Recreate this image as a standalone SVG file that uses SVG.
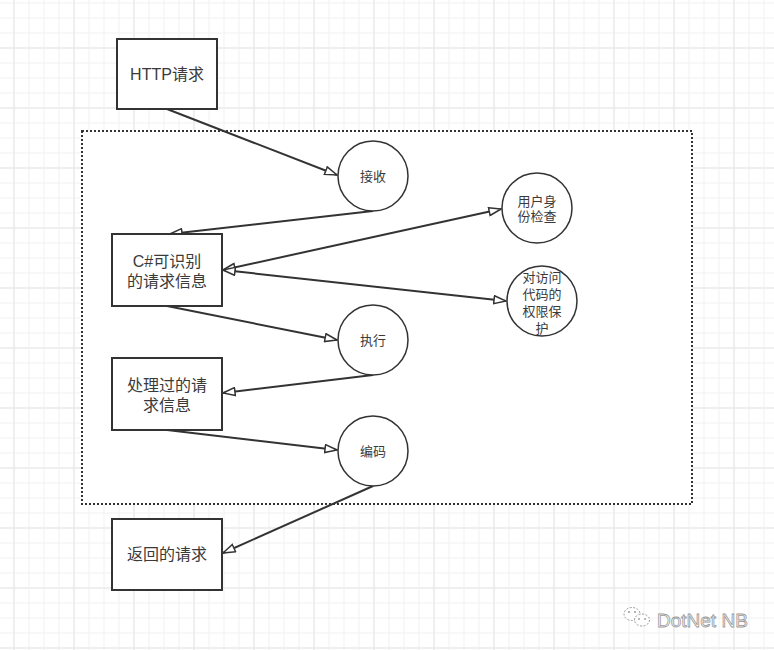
<svg xmlns="http://www.w3.org/2000/svg" width="774" height="650" viewBox="0 0 774 650">
<style>
.box{fill:#fff;stroke:#333;stroke-width:2}
.circ{fill:#fff;stroke:#333;stroke-width:1.5}
.lbl{font-family:"Liberation Sans","Noto Sans CJK SC",sans-serif;font-size:16px;fill:#3a3a3a;text-anchor:middle;dominant-baseline:central}
.sm{font-family:"Liberation Sans","Noto Sans CJK SC",sans-serif;font-size:13px;fill:#3a3a3a;text-anchor:middle;dominant-baseline:central}
.edge{fill:none;stroke:#333;stroke-width:2}
</style>
<defs>
<pattern id="minor" patternUnits="userSpaceOnUse" x="13.5" y="2.5" width="15" height="15">
<path d="M0.5 0V15M0 0.5H15" stroke="#f1f1f1" stroke-width="1" fill="none"/>
</pattern>
<pattern id="major" patternUnits="userSpaceOnUse" x="13.5" y="47.5" width="60" height="60">
<path d="M0.5 0V60M0 0.5H60" stroke="#e6e6e6" stroke-width="1" fill="none"/>
</pattern>
<marker id="arr" markerUnits="userSpaceOnUse" viewBox="0 0 14 10" refX="13" refY="5" markerWidth="14" markerHeight="10" orient="auto-start-reverse">
<path d="M1 1L13 5L1 9Z" fill="#fff" stroke="#333" stroke-width="1.5" stroke-linejoin="miter"/>
</marker>
</defs>
<rect width="774" height="650" fill="#fff"/>
<rect width="774" height="650" fill="url(#minor)"/>
<rect width="774" height="650" fill="url(#major)"/>
<g id="container">
<rect x="82" y="131" width="610" height="373" fill="#fff" stroke="#333" stroke-width="2" stroke-dasharray="2 2"/>
</g>
<g id="connectors">
<path class="edge" d="M167 109L337 175" marker-end="url(#arr)"/>
<path class="edge" d="M373 211L170 234" marker-end="url(#arr)"/>
<path class="edge" d="M223 270L501 209" marker-start="url(#arr)" marker-end="url(#arr)"/>
<path class="edge" d="M223 270L506 301" marker-start="url(#arr)" marker-end="url(#arr)"/>
<path class="edge" d="M167 306L337 340" marker-end="url(#arr)"/>
<path class="edge" d="M373 375L223 393" marker-end="url(#arr)"/>
<path class="edge" d="M167 430L337 450" marker-end="url(#arr)"/>
<path class="edge" d="M373 486L223 553" marker-end="url(#arr)"/>
</g>
<g id="http">
<rect class="box" x="117" y="39" width="100" height="70"/>
<text class="lbl" x="167" y="74">HTTP请求</text>
</g>
<g id="receive">
<circle class="circ" cx="373" cy="176" r="35"/>
<text class="sm" x="373" y="176">接收</text>
</g>
<g id="csreq">
<rect class="box" x="112" y="234" width="110" height="72"/>
<text class="lbl" x="167" y="261">C#可识别</text>
<text class="lbl" x="167" y="281">的请求信息</text>
</g>
<g id="auth">
<circle class="circ" cx="537" cy="208" r="35"/>
<text class="sm" x="537" y="201">用户身</text>
<text class="sm" x="537" y="216">份检查</text>
</g>
<g id="perm">
<circle class="circ" cx="542" cy="301" r="35"/>
<text class="sm" x="542" y="277">对访问</text>
<text class="sm" x="542" y="294">代码的</text>
<text class="sm" x="542" y="311">权限保</text>
<text class="sm" x="542" y="328">护</text>
</g>
<g id="exec">
<circle class="circ" cx="373" cy="340" r="35"/>
<text class="sm" x="373" y="340">执行</text>
</g>
<g id="processed">
<rect class="box" x="112" y="358" width="110" height="72"/>
<text class="lbl" x="167" y="385">处理过的请</text>
<text class="lbl" x="167" y="405">求信息</text>
</g>
<g id="encode">
<circle class="circ" cx="373" cy="451" r="35"/>
<text class="sm" x="373" y="451">编码</text>
</g>
<g id="response">
<rect class="box" x="112" y="519" width="110" height="71"/>
<text class="lbl" x="167" y="554">返回的请求</text>
</g>
<g id="watermark">
<ellipse cx="632" cy="614" rx="8" ry="6.5" fill="#fff" stroke="#999" stroke-width="1" stroke-dasharray="2 1.5"/>
<ellipse cx="642" cy="620" rx="7.5" ry="6" fill="#fff" stroke="#999" stroke-width="1" stroke-dasharray="2 1.5"/>
<circle cx="629" cy="612" r="1" fill="#999"/>
<circle cx="635" cy="612" r="1" fill="#999"/>
<circle cx="639" cy="619" r="0.9" fill="#999"/>
<circle cx="645" cy="619" r="0.9" fill="#999"/>
<text x="657" y="620" font-family="'Liberation Sans',sans-serif" font-size="19" fill="#fff" stroke="#999" stroke-width="0.8" dominant-baseline="central">DotNet NB</text>
</g>
</svg>
